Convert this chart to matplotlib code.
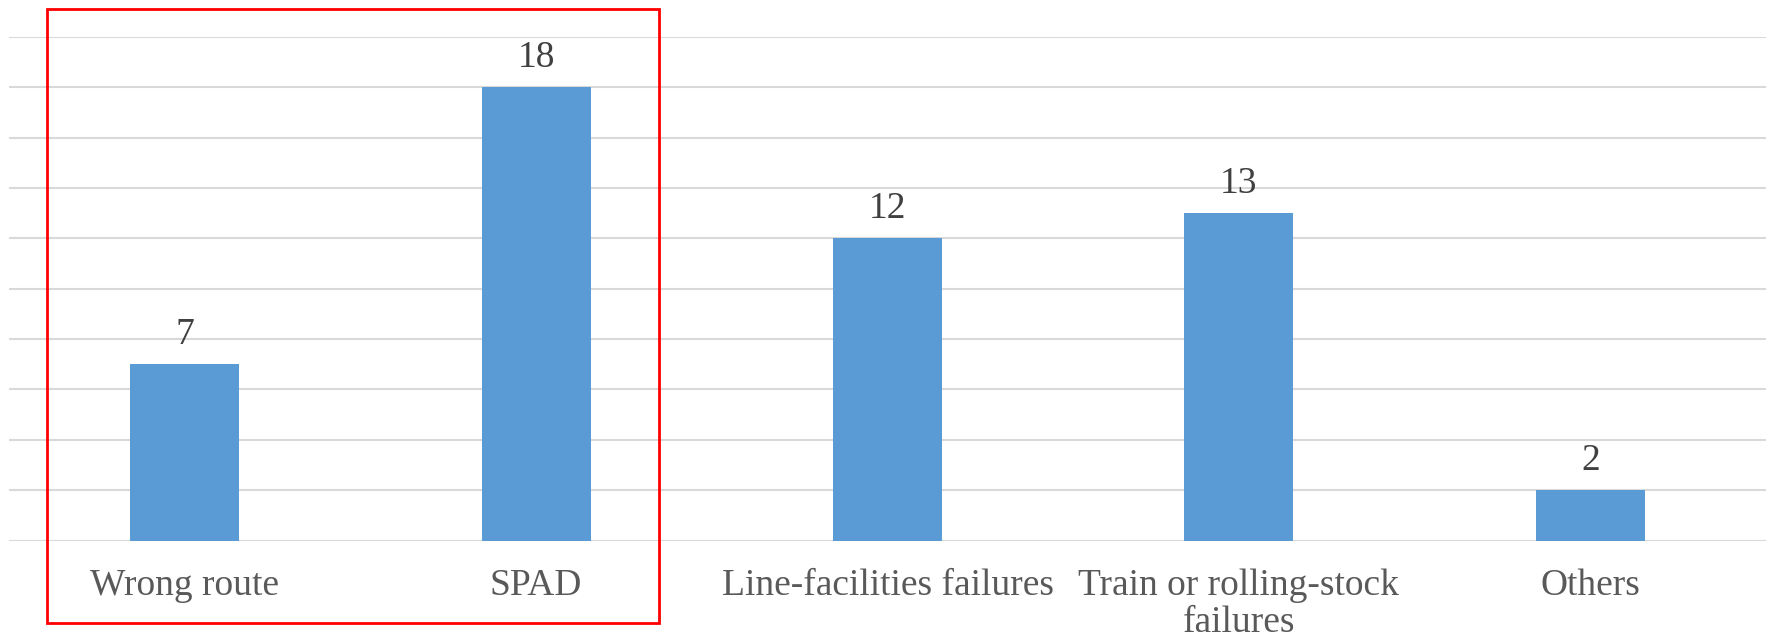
import matplotlib
matplotlib.use("Agg")
import matplotlib.pyplot as plt
from matplotlib.patches import Rectangle

categories = ["Wrong route", "SPAD", "Line-facilities failures",
              "Train or rolling-stock\nfailures", "Others"]
counts = [7, 18, 12, 13, 2]

W, H = 1769, 641
fig = plt.figure(figsize=(W / 100, H / 100), dpi=100)
ax = fig.add_axes([9 / W, 1 - 540.5 / H, (1766 - 9) / W, (540.5 - 37) / H])

x = range(len(categories))
bars = ax.bar(x, counts, width=0.31, color="#5B9BD5", zorder=3)

ax.set_xlim(-0.5, len(categories) - 0.5)
ax.set_ylim(0, 20)
ax.set_yticks(range(0, 21, 2))
ax.yaxis.grid(True, color="#D9D9D9", linewidth=1.5, zorder=0)
ax.tick_params(axis="y", left=False, labelleft=False)
ax.tick_params(axis="x", bottom=False, pad=17)
ax.set_xticks(list(x))
ax.set_xticklabels(categories, fontsize=27, color="#595959",
                   family=["Liberation Serif", "DejaVu Serif"], linespacing=1.08)
for s in ax.spines.values():
    s.set_visible(False)

for b, v in zip(bars, counts):
    ax.annotate(str(v), (b.get_x() + b.get_width() / 2, v), xytext=(0, 9),
                textcoords="offset points", ha="center", va="bottom",
                fontsize=27, color="#404040",
                family=["Liberation Serif", "DejaVu Serif"])

# red highlight box round the first two categories
fig.patches.append(Rectangle((47 / W, 1 - 623 / H), (659 - 47) / W, (623 - 9) / H,
                             transform=fig.transFigure, fill=False,
                             edgecolor="#FF0000", linewidth=2))

fig.savefig("out.png", dpi=100)
